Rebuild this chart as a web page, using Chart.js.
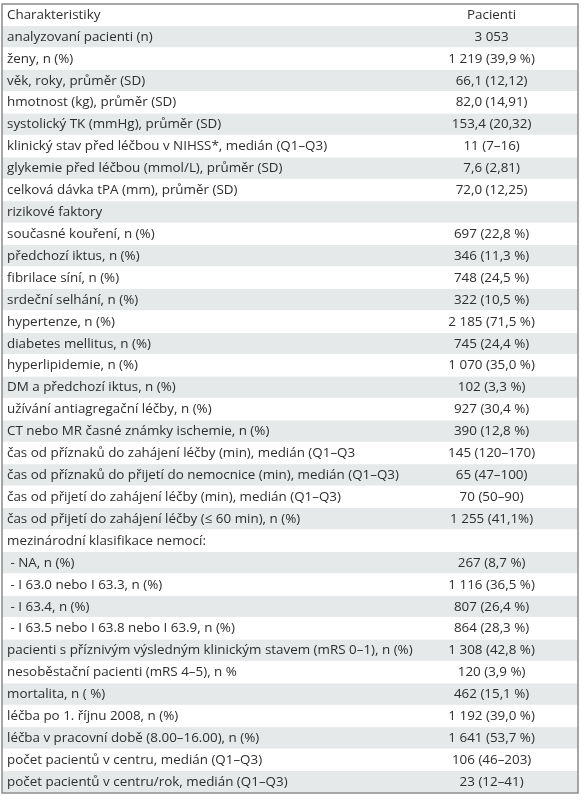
<!DOCTYPE html><html><head><meta charset="utf-8">
<script src="https://cdn.jsdelivr.net/npm/chart.js@4/dist/chart.umd.min.js"></script>
<style>html,body{margin:0;padding:0;background:#fff}#c{display:block}</style></head><body>
<canvas id="c" width="582" height="800"></canvas>
<script>
const headerLabel="Charakteristiky", headerValue="Pacienti";
const characteristics=["analyzovaní pacienti (n)","ženy, n (%)","věk, roky, průměr (SD)","hmotnost (kg), průměr (SD)","systolický TK (mmHg), průměr (SD)","klinický stav před léčbou v NIHSS*, medián (Q1–Q3)","glykemie před léčbou (mmol/L), průměr (SD)","celková dávka tPA (mm), průměr (SD)","rizikové faktory","současné kouření, n (%)","předchozí iktus, n (%)","fibrilace síní, n (%)","srdeční selhání, n (%)","hypertenze, n (%)","diabetes mellitus, n (%)","hyperlipidemie, n (%)","DM a předchozí iktus, n (%)","užívání antiagregační léčby, n (%)","CT nebo MR časné známky ischemie, n (%)","čas od příznaků do zahájení léčby (min), medián (Q1–Q3","čas od příznaků do přijetí do nemocnice (min), medián (Q1–Q3)","čas od přijetí do zahájení léčby (min), medián (Q1–Q3)","čas od přijetí do zahájení léčby (≤ 60 min), n (%)","mezinárodní klasifikace nemocí:"," - NA, n (%)"," - I 63.0 nebo I 63.3, n (%)"," - I 63.4, n (%)"," - I 63.5 nebo I 63.8 nebo I 63.9, n (%)","pacienti s příznivým výsledným klinickým stavem (mRS 0–1), n (%)","nesoběstační pacienti (mRS 4–5), n %","mortalita, n ( %)","léčba po 1. říjnu 2008, n (%)","léčba v pracovní době (8.00–16.00), n (%)","počet pacientů v centru, medián (Q1–Q3)","počet pacientů v centru/rok, medián (Q1–Q3)"];
const patientValues=["3 053","1 219 (39,9 %)","66,1 (12,12)","82,0 (14,91)","153,4 (20,32)","11 (7–16)","7,6 (2,81)","72,0 (12,25)","","697 (22,8 %)","346 (11,3 %)","748 (24,5 %)","322 (10,5 %)","2 185 (71,5 %)","745 (24,4 %)","1 070 (35,0 %)","102 (3,3 %)","927 (30,4 %)","390 (12,8 %)","145 (120–170)","65 (47–100)","70 (50–90)","1 255 (41,1%)","","267 (8,7 %)","1 116 (36,5 %)","807 (26,4 %)","864 (28,3 %)","1 308 (42,8 %)","120 (3,9 %)","462 (15,1 %)","1 192 (39,0 %)","1 641 (53,7 %)","106 (46–203)","23 (12–41)"];
const rows=[headerLabel,...characteristics];
const vals=[headerValue,...patientValues];
const FONT='13.4px "Open Sans", "Noto Sans", sans-serif';
const tablePlugin={id:'tbl',
 afterDatasetsDraw(ch){const c=ch.ctx,y=ch.scales.y,a=ch.chartArea;c.save();c.font=FONT;c.fillStyle='#2e2e2e';c.textBaseline='middle';
  rows.forEach((r,i)=>{const py=y.getPixelForValue(i);c.textAlign='left';c.fillText(r,a.left+5,py);c.textAlign='center';c.fillText(vals[i],ch.scales.x.getPixelForValue(0.85),py);});
  c.strokeStyle='#8a8a8a';c.lineWidth=1.5;c.strokeRect(a.left,a.top,a.right-a.left,a.bottom-a.top);c.restore();}};
new Chart(document.getElementById('c'),{type:'bar',
 data:{labels:rows,datasets:[{data:rows.map(()=>1),backgroundColor:rows.map((r,i)=>i%2?'#e6e9e9':'#ffffff'),borderColor:'#ffffff',borderWidth:{top:0,bottom:1,left:0,right:0},borderSkipped:false,barPercentage:1,categoryPercentage:1}]},
 options:{indexAxis:'y',responsive:false,animation:false,layout:{padding:{left:2,right:4,top:4,bottom:7}},
  plugins:{legend:{display:false},tooltip:{enabled:false}},
  scales:{x:{display:false,min:0,max:1},y:{display:false}}}, plugins:[tablePlugin]});
</script></body></html>
